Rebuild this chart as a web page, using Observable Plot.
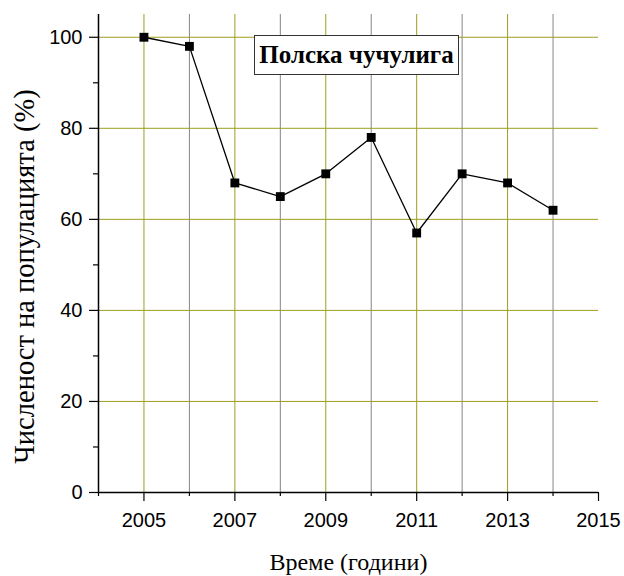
<!DOCTYPE html>
<html>
<head>
<meta charset="utf-8">
<script src="https://cdn.jsdelivr.net/npm/d3@7"></script>
<script src="https://cdn.jsdelivr.net/npm/@observablehq/plot@0.6"></script>
<style>
  html, body { margin: 0; padding: 0; background: #fff; }
  #wrap { position: relative; width: 624px; height: 576px; }
  #title {
    position: absolute; left: 254px; top: 35px; width: 203px; height: 38px;
    border: 1px solid #333; background: #fff; box-sizing: content-box;
    font-family: "Liberation Serif", "Times New Roman", serif; font-weight: bold;
    font-size: 25px; line-height: 38px; text-align: center; color: #000;
  }
</style>
</head>
<body>
<div id="wrap"></div>
<script>
const years = [2005, 2006, 2007, 2008, 2009, 2010, 2011, 2012, 2013, 2014];
const values = [100, 98, 68, 65, 70, 78, 57, 70, 68, 62];
const xMajorTicks = [2005, 2007, 2009, 2011, 2013, 2015];
const xMinorTicks = [2004, 2006, 2008, 2010, 2012, 2014];
const yMajorTicks = [0, 20, 40, 60, 80, 100];
const yMinorTicks = [10, 30, 50, 70, 90];
const vGridOlive = [2005, 2007, 2009, 2011, 2013];
const vGridGray = [2006, 2008, 2010, 2012, 2014];
const hGrid = [20, 40, 60, 80, 100];
const titleText = "Полска чучулига";
const xLabel = "Време (години)";
const yLabel = "Численост на популацията (%)";

const data = years.map((y, i) => ({year: y, value: values[i]}));
const olive = "#9e9e1e";
const gray = "#858585";
const sans = "'Liberation Sans', Arial, sans-serif";
const serif = "'Liberation Serif', 'Times New Roman', serif";

const chart = Plot.plot({
  width: 624,
  height: 576,
  marginLeft: 98,
  marginRight: 26,
  marginTop: 14,
  marginBottom: 84,
  style: {background: "#fff", color: "#000"},
  x: {domain: [2004, 2015]},
  y: {domain: [0, 105]},
  marks: [
    Plot.ruleX(vGridGray, {stroke: gray, strokeWidth: 1}),
    Plot.ruleX(vGridOlive, {stroke: olive, strokeWidth: 1}),
    Plot.ruleY(hGrid, {stroke: olive, strokeWidth: 1}),
    Plot.axisX(xMajorTicks, {tickSize: 9, tickPadding: 11, tickFormat: "d", fontSize: 20, fontFamily: sans, label: null, stroke: "#000", strokeWidth: 1.2}),
    Plot.axisX(xMinorTicks, {tickSize: 4, tickFormat: () => "", label: null, stroke: "#000", strokeWidth: 1.2}),
    Plot.axisY(yMajorTicks, {tickSize: 9, tickPadding: 7, fontSize: 20, fontFamily: sans, label: null, stroke: "#000", strokeWidth: 1.2}),
    Plot.axisY(yMinorTicks, {tickSize: 5, tickFormat: () => "", label: null, stroke: "#000", strokeWidth: 1.2}),
    Plot.ruleY([0], {stroke: "#000", strokeWidth: 1.5}),
    Plot.ruleX([2004], {stroke: "#000", strokeWidth: 1.5}),
    Plot.line(data, {x: "year", y: "value", stroke: "#000", strokeWidth: 1.3}),
    Plot.dot(data, {x: "year", y: "value", symbol: "square", r: 5, fill: "#000", stroke: "none"}),
    Plot.text([xLabel], {frameAnchor: "bottom", dy: 70, textAnchor: "middle", lineAnchor: "middle", fontFamily: serif, fontSize: 24, fill: "#000"}),
    Plot.text([yLabel], {frameAnchor: "left", dx: -74, dy: 23, rotate: -90, textAnchor: "middle", lineAnchor: "middle", fontFamily: serif, fontSize: 28.5, fill: "#000"})
  ]
});

const wrap = document.getElementById("wrap");
wrap.appendChild(chart);
const t = document.createElement("div");
t.id = "title";
t.textContent = titleText;
wrap.appendChild(t);
</script>
</body>
</html>
